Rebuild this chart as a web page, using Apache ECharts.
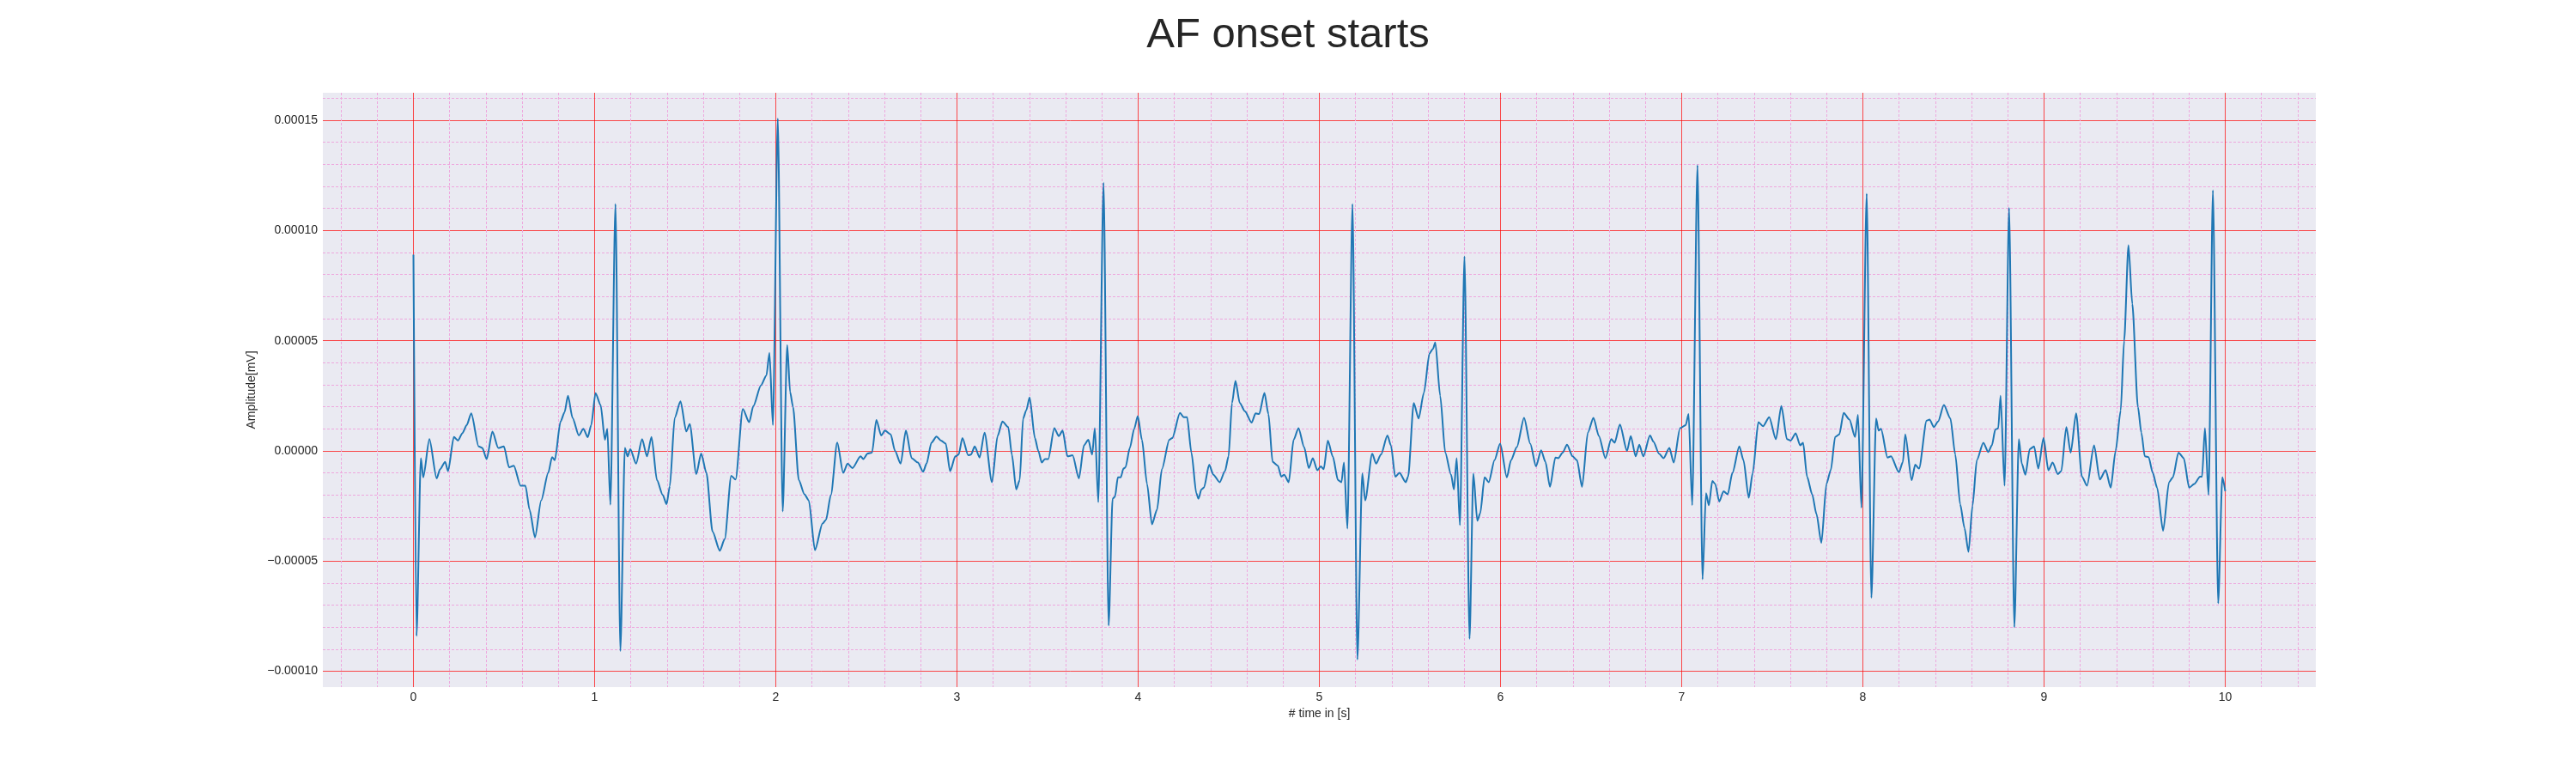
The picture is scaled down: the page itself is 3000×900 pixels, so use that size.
<!DOCTYPE html>
<html lang="en">
<head>
    <meta charset="UTF-8">
    <title>AF onset starts</title>
    <script src="https://cdn.jsdelivr.net/npm/echarts@6/dist/echarts.min.js"></script>
    <style>
        html, body {
            margin: 0;
            padding: 0;
            background: #fff;
        }

        #charts {
            width: 3000px;
            height: 900px;
        }
    </style>
</head>
<body>
<div id="charts"></div>

<script>
    // time axis in seconds
    var time = [
        0.000, 0.017, 0.041, 0.054, 0.088, 0.128, 0.147, 0.175, 0.191, 0.223,
        0.246, 0.270, 0.294, 0.319, 0.360, 0.380, 0.404, 0.436, 0.468, 0.499,
        0.528, 0.554, 0.591, 0.618, 0.641, 0.671, 0.705, 0.744, 0.765, 0.780,
        0.812, 0.834, 0.853, 0.878, 0.913, 0.938, 0.962, 0.981, 1.005, 1.033,
        1.057, 1.070, 1.087, 1.115, 1.142, 1.167, 1.182, 1.197, 1.229, 1.262,
        1.289, 1.314, 1.344, 1.376, 1.397, 1.415, 1.442, 1.474, 1.506, 1.525,
        1.561, 1.588, 1.617, 1.651, 1.691, 1.718, 1.754, 1.778, 1.818, 1.853,
        1.876, 1.918, 1.948, 1.965, 1.984, 2.011, 2.038, 2.063, 2.079, 2.095,
        2.127, 2.158, 2.182, 2.216, 2.258, 2.277, 2.304, 2.339, 2.372, 2.396,
        2.423, 2.468, 2.483, 2.507, 2.531, 2.555, 2.582, 2.602, 2.634, 2.658,
        2.689, 2.718, 2.750, 2.784, 2.813, 2.832, 2.859, 2.887, 2.912, 2.938,
        2.962, 2.991, 3.009, 3.030, 3.062, 3.077, 3.098, 3.125, 3.152, 3.193,
        3.224, 3.251, 3.283, 3.303, 3.327, 3.346, 3.365, 3.382, 3.401, 3.430,
        3.449, 3.468, 3.485, 3.504, 3.537, 3.562, 3.583, 3.610, 3.638, 3.673,
        3.701, 3.725, 3.746, 3.761, 3.780, 3.809, 3.837, 3.859, 3.872, 3.888,
        3.904, 3.919, 3.930, 3.954, 3.978, 3.998, 4.021, 4.049, 4.076, 4.104,
        4.131, 4.172, 4.188, 4.231, 4.251, 4.270, 4.294, 4.321, 4.333, 4.349,
        4.363, 4.392, 4.415, 4.450, 4.479, 4.499, 4.518, 4.537, 4.561, 4.589,
        4.626, 4.648, 4.668, 4.697, 4.719, 4.742, 4.771, 4.790, 4.806, 4.831,
        4.858, 4.885, 4.916, 4.942, 4.964, 4.989, 5.008, 5.024, 5.047, 5.074,
        5.103, 5.122, 5.136, 5.155, 5.183, 5.210, 5.237, 5.253, 5.292, 5.313,
        5.340, 5.376, 5.395, 5.419, 5.442, 5.477, 5.490, 5.521, 5.548, 5.577,
        5.608, 5.627, 5.640, 5.667, 5.695, 5.727, 5.743, 5.758, 5.776, 5.801,
        5.829, 5.850, 5.872, 5.888, 5.912, 5.935, 5.967, 5.998, 6.035, 6.058,
        6.090, 6.130, 6.164, 6.196, 6.224, 6.248, 6.273, 6.303, 6.319, 6.343,
        6.367, 6.398, 6.422, 6.450, 6.482, 6.513, 6.543, 6.579, 6.611, 6.630,
        6.659, 6.698, 6.719, 6.746, 6.766, 6.788, 6.825, 6.844, 6.875, 6.900,
        6.932, 6.956, 6.991, 7.022, 7.038, 7.058, 7.087, 7.115, 7.134, 7.150,
        7.169, 7.185, 7.207, 7.231, 7.254, 7.280, 7.318, 7.341, 7.370, 7.392,
        7.423, 7.449, 7.483, 7.520, 7.550, 7.581, 7.602, 7.629, 7.654, 7.670,
        7.692, 7.720, 7.744, 7.771, 7.799, 7.823, 7.847, 7.870, 7.894, 7.926,
        7.957, 7.973, 7.992, 8.021, 8.047, 8.073, 8.087, 8.100, 8.136, 8.155,
        8.199, 8.221, 8.234, 8.269, 8.289, 8.310, 8.352, 8.368, 8.392, 8.415,
        8.447, 8.483, 8.510, 8.537, 8.561, 8.583, 8.605, 8.629, 8.665, 8.692,
        8.712, 8.731, 8.747, 8.760, 8.782, 8.807, 8.836, 8.861, 8.877, 8.897,
        8.921, 8.945, 8.968, 8.997, 9.024, 9.047, 9.076, 9.095, 9.123, 9.147,
        9.177, 9.209, 9.237, 9.276, 9.308, 9.340, 9.368, 9.395, 9.423, 9.442,
        9.466, 9.487, 9.518, 9.537, 9.556, 9.577, 9.600, 9.624, 9.657, 9.690,
        9.711, 9.742, 9.771, 9.801, 9.829, 9.861, 9.872, 9.888, 9.908, 9.932,
        9.961, 9.984, 10.000
    ];

    // amplitude, in units of 1e-5 mV (same order as time)
    var AMP_UNIT = 1e-5;
    var amp = [
        8.90, -8.40, -0.33, -1.20, 0.53, -1.25, -0.83, -0.50, -0.92, 0.63,
        0.47, 0.80, 1.17, 1.70, 0.20, 0.13, -0.37, 0.87, 0.13, 0.20,
        -0.75, -0.67, -1.58, -1.58, -2.67, -3.92, -2.25, -1.00, -0.28, -0.42,
        1.33, 1.75, 2.50, 1.50, 0.70, 1.00, 0.62, 1.17, 2.62, 2.08,
        0.50, 1.00, -2.45, 11.20, -9.08, 0.13, -0.25, 0.08, -0.58, 0.53,
        -0.25, 0.63, -1.33, -2.00, -2.42, -1.60, 1.50, 2.25, 0.88, 1.22,
        -1.05, -0.12, -1.00, -3.67, -4.53, -4.00, -1.13, -1.30, 1.90, 1.30,
        2.03, 2.97, 3.42, 4.45, 1.17, 15.08, -2.75, 4.80, 2.67, 2.00,
        -1.33, -1.97, -2.25, -4.50, -3.30, -3.13, -2.00, 0.38, -1.00, -0.58,
        -0.78, -0.25, -0.37, -0.12, -0.08, 1.40, 0.70, 0.92, 0.75, 0.00,
        -0.58, 0.92, -0.33, -0.53, -0.95, -0.58, 0.37, 0.65, 0.47, 0.33,
        -0.92, -0.25, -0.17, 0.58, -0.20, -0.17, 0.20, -0.30, 0.83, -1.42,
        0.67, 1.33, 1.08, -0.17, -1.75, -1.33, 1.47, 1.83, 2.42, 0.58,
        0.00, -0.53, -0.37, -0.37, 1.03, 0.67, 0.92, -0.25, -0.20, -1.25,
        0.25, 0.50, -0.17, 1.03, -2.33, 12.17, -7.92, -2.17, -2.08, -1.20,
        -1.20, -0.80, -0.75, 0.13, 1.00, 1.58, 0.50, -1.50, -3.33, -2.67,
        -0.83, 0.50, 0.58, 1.72, 1.53, 1.53, -0.08, -1.92, -2.17, -1.75,
        -1.67, -0.63, -1.08, -1.42, -0.92, -0.25, 2.17, 3.17, 2.17, 1.80,
        1.28, 1.70, 1.67, 2.63, 1.67, -0.50, -0.67, -1.17, -1.08, -1.42,
        0.50, 1.03, 0.17, -0.78, -0.33, -0.88, -0.70, -0.83, 0.47, -0.25,
        -1.33, -1.42, -0.53, -3.53, 11.20, -9.47, -1.03, -2.25, -0.13, -0.58,
        -0.17, 0.70, 0.25, -1.17, -1.00, -1.42, -1.17, 2.17, 1.47, 2.63,
        4.42, 4.63, 4.92, 2.50, -0.08, -1.08, -1.75, -0.33, -3.37, 8.83,
        -8.53, -1.03, -3.17, -2.83, -1.20, -1.42, -0.42, 0.33, -1.20, -0.42,
        0.17, 1.50, 0.33, -0.70, 0.03, -0.50, -1.63, -0.30, -0.33, -0.08,
        0.28, -0.25, -0.42, -1.63, 0.83, 1.50, 0.67, -0.33, 0.53, 0.37,
        1.20, 0.00, 0.67, -0.25, 0.28, -0.25, 0.70, 0.42, -0.13, -0.33,
        0.13, -0.53, 1.03, 1.17, 1.67, -2.47, 12.97, -5.83, -1.92, -2.47,
        -1.37, -1.50, -2.30, -1.83, -1.97, -1.00, 0.20, -0.42, -2.13, -1.00,
        1.30, 1.12, 1.53, 0.53, 2.03, 0.53, 0.47, 0.80, 0.25, 0.37,
        -1.17, -1.97, -2.87, -4.17, -1.50, -0.87, 0.63, 0.75, 1.72, 1.42,
        0.63, 1.63, -2.58, 11.67, -6.67, 1.47, 0.92, 1.00, -0.30, -0.25,
        -0.97, -0.50, 0.75, -1.33, -0.63, -0.80, 1.37, 1.42, 1.08, 1.33,
        2.08, 1.47, -0.17, -2.42, -3.50, -4.58, -2.50, -0.42, 0.37, -0.05,
        0.25, 0.97, 1.02, 2.50, -1.58, 11.03, -8.00, 0.53, -0.58, -1.08,
        0.08, 0.20, -0.80, 0.58, -0.88, -0.53, -1.05, -0.92, 1.08, -0.08,
        1.70, -1.17, -1.58, 0.25, -1.30, -0.87, -1.67, 0.00, 1.83, 5.00,
        9.33, 6.67, 2.00, 0.83, -0.25, -0.28, -1.00, -1.67, -3.63, -1.42,
        -1.20, -0.08, -0.33, -1.67, -1.50, -1.17, -1.17, 1.03, -2.00, 11.83,
        -6.92, -1.20, -1.83
    ];

    var xMin = -0.5, xMax = 10.5;
    var yMin = -0.0001072, yMax = 0.0001625;

    var fontFamily = '"Liberation Sans", Arial, sans-serif';
    var textColor = '#262626';
    var majorGrid = 'rgba(255,0,0,0.7)';
    var minorGrid = '#eea8de';

    var chart = document.getElementById('charts');
    var myChart = echarts.init(chart);

    var seriesData = time.map(function (t, i) {
        return [t, amp[i] * AMP_UNIT];
    });

    function yLabel(v) {
        var s = Math.abs(v).toFixed(5);
        if (v < 0 && s !== '0.00000') {
            return '\u2212' + s;
        }
        return s;
    }

    var option = {
        animation: false,
        backgroundColor: '#ffffff',
        title: {
            text: 'AF onset starts',
            left: 'center',
            top: 12,
            textStyle: {
                fontFamily: fontFamily,
                fontSize: 49,
                fontWeight: 'normal',
                color: textColor
            }
        },
        grid: {
            left: 376,
            right: 303,
            top: 108,
            bottom: 100,
            show: true,
            backgroundColor: '#eaeaf2',
            borderWidth: 0
        },
        xAxis: {
            type: 'value',
            min: xMin,
            max: xMax,
            splitNumber: 10,
            minInterval: 1,
            maxInterval: 1,
            name: '# time in [s]',
            nameLocation: 'middle',
            nameGap: 22,
            nameTextStyle: {
                fontFamily: fontFamily,
                fontSize: 14,
                color: textColor
            },
            axisLine: {show: false},
            axisTick: {show: false},
            axisLabel: {
                showMinLabel: false,
                showMaxLabel: false,
                margin: 5,
                fontFamily: fontFamily,
                fontSize: 14,
                color: textColor
            },
            splitLine: {
                show: true,
                showMinLine: false,
                showMaxLine: false,
                lineStyle: {color: majorGrid, width: 1}
            },
            minorTick: {show: false, splitNumber: 5},
            minorSplitLine: {
                show: true,
                lineStyle: {color: minorGrid, width: 1, type: [3, 2]}
            }
        },
        yAxis: {
            type: 'value',
            min: yMin,
            max: yMax,
            splitNumber: 5,
            minInterval: 0.00005,
            maxInterval: 0.00005,
            name: 'Amplitude[mV]',
            nameLocation: 'middle',
            nameGap: 72,
            nameTextStyle: {
                fontFamily: fontFamily,
                fontSize: 14,
                color: textColor
            },
            axisLine: {show: false},
            axisTick: {show: false},
            axisLabel: {
                showMinLabel: false,
                showMaxLabel: false,
                margin: 6,
                fontFamily: fontFamily,
                fontSize: 14,
                color: textColor,
                formatter: yLabel
            },
            splitLine: {
                show: true,
                showMinLine: false,
                showMaxLine: false,
                lineStyle: {color: majorGrid, width: 1}
            },
            minorTick: {show: false, splitNumber: 5},
            minorSplitLine: {
                show: true,
                lineStyle: {color: minorGrid, width: 1, type: [3, 2]}
            }
        },
        series: [
            {
                type: 'line',
                data: seriesData,
                showSymbol: false,
                smooth: 0.25,
                smoothMonotone: 'x',
                lineStyle: {color: '#1f77b4', width: 2},
                z: 5
            }
        ]
    };

    myChart.setOption(option);
</script>
</body>
</html>
